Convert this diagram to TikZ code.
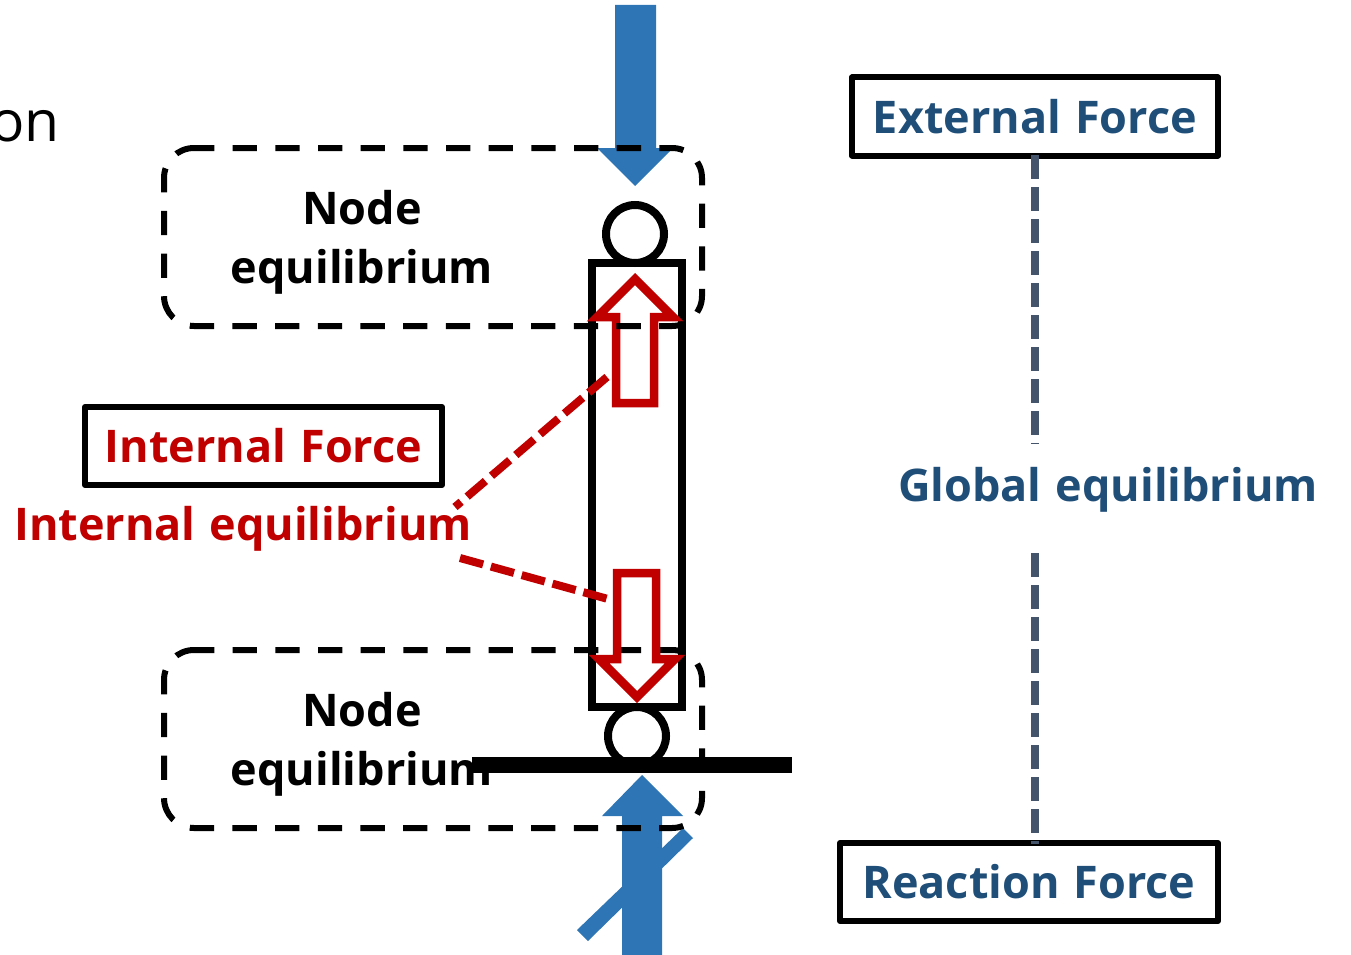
\documentclass[tikz,border=0pt]{standalone}
\usepackage{fontspec}
\setmainfont[BoldFont={Open Sans Bold}, WordSpace=1.2]{Open Sans}
\definecolor{forceblue}{HTML}{2E75B6}
\definecolor{labelblue}{HTML}{1F4E79}
\definecolor{forcered}{HTML}{C00000}
\definecolor{slategray}{HTML}{44546A}
\tikzset{
    nodelabel/.style={align=center, font=\fontsize{45}{58}\selectfont\bfseries},
    forcebox/.style={draw=black, line width=6pt, line join=round, inner sep=0pt, minimum height=78pt, font=\fontsize{45}{58}\selectfont\bfseries},
    eqbox/.style={draw=black, line width=6pt, dash pattern=on 24.3pt off 18.37pt, dash phase=4pt},
    redarrow/.style={draw=forcered, line width=8.5pt, miter limit=10},
    redlink/.style={draw=forcered, line width=8pt, dash pattern=on 24pt off 8pt},
    globallink/.style={draw=slategray, line width=8pt, dash pattern=on 24pt off 8pt},
}
\begin{document}
\begin{tikzpicture}[x=1pt, y=-1pt]
    \useasboundingbox (0, 0) rectangle (1351, 955);
    \clip (0, 0) rectangle (1351, 955);
    % 残字
    \node[anchor=base east, inner sep=0pt, font=\fontsize{57}{60}\selectfont] (cuttext) at (60, 142) {on};
    % 节点标签
    \node[nodelabel] (topnode) at (362, 242) {Node\\[1pt]equilibrium};
    \node[nodelabel] (bottomnode) at (362, 744) {Node\\[1pt]equilibrium};
    % 蓝色箭头
    \fill[forceblue] (615, 5) -- (656, 5) -- (656, 148) -- (673, 148) -- (635, 186) -- (597, 148) -- (615, 148) -- cycle;
    \fill[forceblue] (577, 930) -- (683, 828) -- (693, 838) -- (588, 941) -- cycle;
    \fill[forceblue] (642, 775) -- (683, 816) -- (662, 816) -- (662, 955) -- (622, 955) -- (622, 816) -- (602, 816) -- cycle;
    % 杆件与铰
    \draw[line width=8pt, fill=white] (592, 263) rectangle (682, 707);
    \draw[line width=8pt] (635, 234) circle (29);
    \draw[line width=8pt] (637, 736) circle (29);
    \draw[line width=16pt] (472, 765) -- (792, 765);
    % 红色箭头与虚线框
    \draw[redarrow] (635, 279) -- (673, 317) -- (654, 317) -- (654, 403) -- (616, 403) -- (616, 317) -- (597, 317) -- cycle;
    \foreach \boxtop in {148, 650} {
        \draw[eqbox] (194, \boxtop) -- (672, \boxtop) arc (-90:0:30) -- (702, \boxtop+148) arc (0:90:30)
            -- (194, \boxtop+178) arc (90:180:30) -- (164, \boxtop+30) arc (180:270:30) -- cycle;
    }
    \draw[redarrow] (637, 697) -- (675, 659) -- (656, 659) -- (656, 573) -- (617, 573) -- (617, 659) -- (599, 659) -- cycle;
    % 力的标签
    \node[forcebox, text=labelblue, minimum width=366pt] (external) at (1035, 116.5) {External Force};
    \node[forcebox, text=forcered, minimum width=357pt] (internal) at (263.5, 446) {Internal Force};
    \node[forcebox, text=labelblue, minimum width=378pt] (reaction) at (1029, 882) {Reaction Force};
    \node[nodelabel, text=labelblue] (globaleq) at (1108, 490) {Global equilibrium};
    \node[nodelabel, text=forcered] (internaleq) at (243, 529) {Internal equilibrium};
    % 连线
    \coordinate (uparrow) at (607, 377);
    \coordinate (downarrow) at (608, 599);
    \coordinate (redup) at (455, 507);
    \coordinate (reddown) at (460, 558);
    \coordinate (globaltop) at (1034.5, 444);
    \coordinate (globalbottom) at (1035, 553);
    \draw[redlink] (uparrow) -- (redup);
    \draw[redlink] (reddown) -- (downarrow);
    \draw[globallink, shorten <=-3.5pt] (external.south -| globaltop) -- (globaltop);
    \draw[globallink, shorten >=-4pt] (globalbottom) -- (reaction.north -| globalbottom);
\end{tikzpicture}
\end{document}
